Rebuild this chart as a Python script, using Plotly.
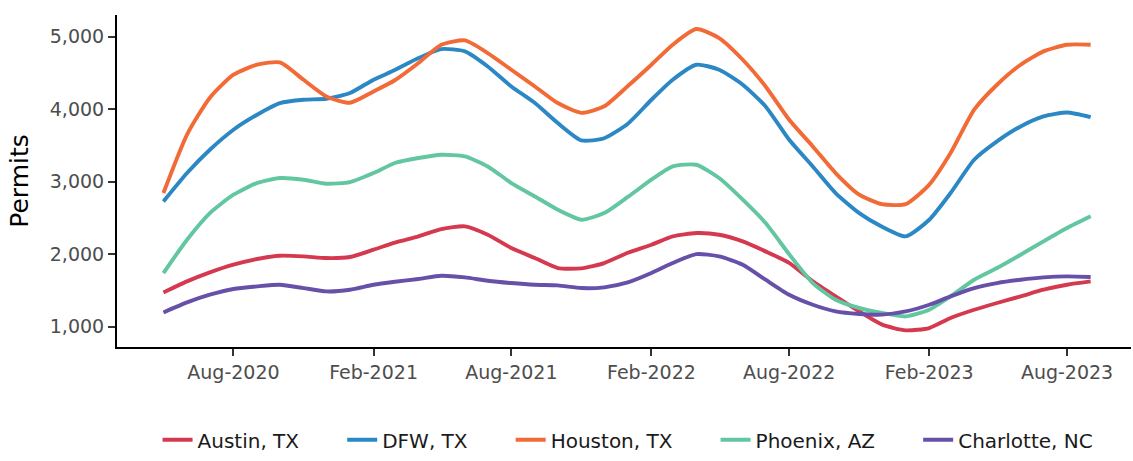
import plotly.graph_objects as go
import pandas as pd

months = pd.date_range("2020-05-01", "2023-09-01", freq="MS")

austin = [1473, 1625, 1749, 1855, 1934, 1979, 1970, 1947, 1961, 2062, 2160, 2246,
          2347, 2384, 2269, 2085, 1947, 1809, 1805, 1878, 2020, 2131, 2246, 2292,
          2269, 2177, 2039, 1880, 1625, 1418, 1211, 1028, 950, 982, 1120, 1234,
          1327, 1418, 1510, 1579, 1625]
dfw = [2728, 3120, 3441, 3717, 3924, 4085, 4131, 4145, 4224, 4407, 4540, 4706,
       4830, 4798, 4590, 4314, 4085, 3809, 3570, 3600, 3800, 4131, 4407, 4614,
       4545, 4338, 4039, 3579, 3211, 2844, 2568, 2380, 2246, 2476, 2844, 3303,
       3556, 3763, 3901, 3956, 3892]
houston = [2844, 3650, 4159, 4476, 4614, 4646, 4407, 4177, 4090, 4246, 4400, 4638,
           4890, 4949, 4775, 4545, 4314, 4085, 3950, 4040, 4320, 4614, 4890, 5106,
           4982, 4683, 4314, 3855, 3487, 3120, 2821, 2690, 2690, 2960, 3396, 3993,
           4338, 4614, 4798, 4890, 4890]
phoenix = [1740, 2200, 2568, 2821, 2982, 3051, 3028, 2972, 2995, 3120, 3258, 3327,
           3372, 3349, 3211, 2982, 2797, 2614, 2476, 2568, 2790, 3028, 3211, 3234,
           3051, 2752, 2430, 2000, 1602, 1372, 1258, 1189, 1142, 1234, 1418, 1648,
           1809, 1993, 2177, 2361, 2522]
charlotte = [1197, 1335, 1441, 1520, 1556, 1579, 1533, 1487, 1510, 1579, 1620, 1658,
             1703, 1680, 1634, 1602, 1579, 1570, 1533, 1543, 1610, 1740, 1878, 2002,
             1970, 1855, 1648, 1441, 1303, 1211, 1175, 1166, 1211, 1303, 1418, 1533,
             1602, 1648, 1680, 1694, 1686]

series_names = ["Austin, TX", "DFW, TX", "Houston, TX", "Phoenix, AZ", "Charlotte, NC"]
series_values = [austin, dfw, houston, phoenix, charlotte]
series_colors = ["#D5394F", "#2B88C4", "#F26A36", "#62C6A0", "#6750A8"]

tick_vals = ["2020-08-01", "2021-02-01", "2021-08-01", "2022-02-01",
             "2022-08-01", "2023-02-01", "2023-08-01"]
tick_text = ["Aug-2020", "Feb-2021", "Aug-2021", "Feb-2022",
             "Aug-2022", "Feb-2023", "Aug-2023"]
y_ticks = [1000, 2000, 3000, 4000, 5000]

FONT = "DejaVu Sans"
pad = "\u00a0" * 6

fig = go.Figure()
for i, (name, vals, col) in enumerate(zip(series_names, series_values, series_colors)):
    label = name + (pad if i < len(series_names) - 1 else "")
    fig.add_trace(go.Scatter(
        x=months, y=vals, mode="lines", name=label,
        line=dict(color=col, width=3.9, shape="spline", smoothing=0.6),
    ))

fig.update_layout(
    width=1133, height=461,
    margin=dict(l=117, r=2, t=15, b=114),
    paper_bgcolor="white", plot_bgcolor="white",
    font=dict(family=FONT, color="#000000"),
    showlegend=True,
    legend=dict(orientation="h", x=0.504, xanchor="center", y=-0.338, yanchor="bottom",
                font=dict(family=FONT, size=20, color="#1a1a1a"),
                bgcolor="rgba(0,0,0,0)"),
    xaxis=dict(
        type="date", range=["2020-03-01", "2023-10-24"],
        tickvals=tick_vals, ticktext=tick_text,
        showgrid=False, zeroline=False,
        showline=True, linecolor="#000000", linewidth=2,
        ticks="outside", ticklen=7, tickwidth=1.5, tickcolor="#333333",
        tickfont=dict(family=FONT, size=19, color="#4D4D4D"),
    ),
    yaxis=dict(
        range=[720, 5300],
        tickvals=y_ticks, tickformat=",d",
        showgrid=False, zeroline=False,
        showline=True, linecolor="#000000", linewidth=2,
        ticks="outside", ticklen=7, tickwidth=1.5, tickcolor="#333333",
        tickfont=dict(family=FONT, size=19, color="#4D4D4D"),
        title=dict(text="Permits", font=dict(family=FONT, size=25, color="#000000"),
                   standoff=14),
    ),
)

fig.write_html(
    "out.html",
    config={"displayModeBar": False},
    post_script="document.body.style.margin='0';document.body.style.padding='0';",
)
